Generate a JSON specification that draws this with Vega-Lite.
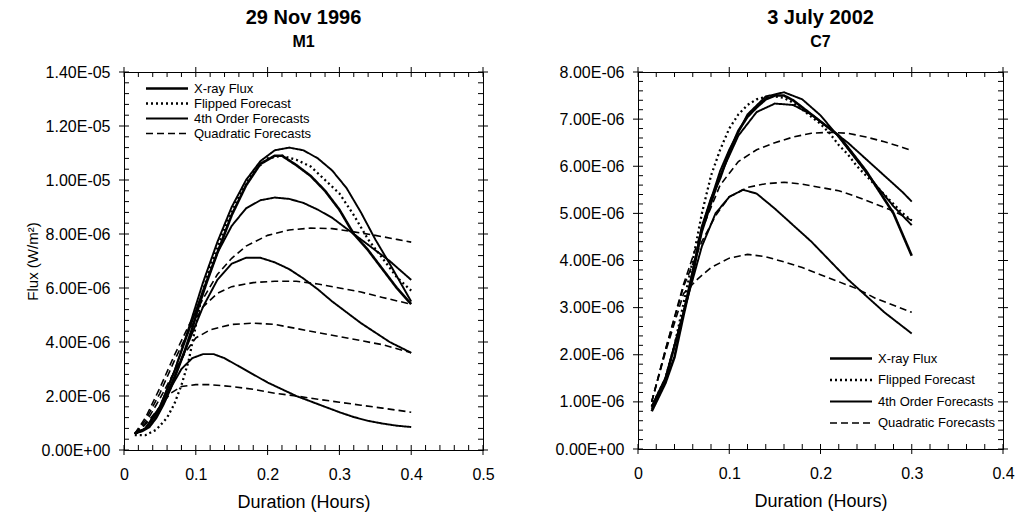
{
 "$schema": "https://vega.github.io/schema/vega-lite/v6.json",
 "padding": {"left": 24, "top": 7, "right": 5, "bottom": 5},
 "background": "white",
 "config": {
  "font": "Liberation Sans",
  "view": {"stroke": "black", "strokeWidth": 1},
  "axis": {"grid": false, "ticks": false, "tickSize": 0, "domainColor": "black", "labelColor": "black", "titleColor": "black", "labelFontSize": 16, "titleFontSize": 18, "titleFontWeight": "normal", "labelOverlap": false, "labelFlush": false, "labelBound": false, "domainWidth": 1},
  "title": {"fontSize": 20, "fontWeight": "bold", "subtitleFontSize": 16, "subtitleFontWeight": "bold", "subtitleColor": "black", "color": "black", "frame": "group", "anchor": "middle"},
  "legend": {"title": null, "orient": "none", "symbolType": "M-11,0H1", "symbolSize": 49, "labelFontSize": 13, "labelColor": "black", "padding": 0, "symbolStrokeColor": "black", "symbolFillColor": "transparent"}
 },
 "datasets": {
  "XL": [{"v":0,"m":1},{"v":0.02,"m":0},{"v":0.04,"m":0},{"v":0.06,"m":0},{"v":0.08,"m":0},{"v":0.1,"m":1},{"v":0.12,"m":0},{"v":0.14,"m":0},{"v":0.16,"m":0},{"v":0.18,"m":0},{"v":0.2,"m":1},{"v":0.22,"m":0},{"v":0.24,"m":0},{"v":0.26,"m":0},{"v":0.28,"m":0},{"v":0.3,"m":1},{"v":0.32,"m":0},{"v":0.34,"m":0},{"v":0.36,"m":0},{"v":0.38,"m":0},{"v":0.4,"m":1},{"v":0.42,"m":0},{"v":0.44,"m":0},{"v":0.46,"m":0},{"v":0.48,"m":0},{"v":0.5,"m":1}],
  "XR": [{"v":0,"m":1},{"v":0.02,"m":0},{"v":0.04,"m":0},{"v":0.06,"m":0},{"v":0.08,"m":0},{"v":0.1,"m":1},{"v":0.12,"m":0},{"v":0.14,"m":0},{"v":0.16,"m":0},{"v":0.18,"m":0},{"v":0.2,"m":1},{"v":0.22,"m":0},{"v":0.24,"m":0},{"v":0.26,"m":0},{"v":0.28,"m":0},{"v":0.3,"m":1},{"v":0.32,"m":0},{"v":0.34,"m":0},{"v":0.36,"m":0},{"v":0.38,"m":0},{"v":0.4,"m":1}],
  "YL": [{"v":0,"m":1},{"v":4e-7,"m":0},{"v":8e-7,"m":0},{"v":1.2e-6,"m":0},{"v":1.6e-6,"m":0},{"v":2e-6,"m":1},{"v":2.4e-6,"m":0},{"v":2.8e-6,"m":0},{"v":3.2e-6,"m":0},{"v":3.6e-6,"m":0},{"v":4e-6,"m":1},{"v":4.4e-6,"m":0},{"v":4.8e-6,"m":0},{"v":5.2e-6,"m":0},{"v":5.6e-6,"m":0},{"v":6e-6,"m":1},{"v":6.4e-6,"m":0},{"v":6.8e-6,"m":0},{"v":7.2e-6,"m":0},{"v":7.6e-6,"m":0},{"v":8e-6,"m":1},{"v":8.4e-6,"m":0},{"v":8.8e-6,"m":0},{"v":9.2e-6,"m":0},{"v":9.6e-6,"m":0},{"v":1e-5,"m":1},{"v":1.04e-5,"m":0},{"v":1.08e-5,"m":0},{"v":1.12e-5,"m":0},{"v":1.16e-5,"m":0},{"v":1.2e-5,"m":1},{"v":1.24e-5,"m":0},{"v":1.28e-5,"m":0},{"v":1.32e-5,"m":0},{"v":1.36e-5,"m":0},{"v":1.4e-5,"m":1}],
  "YR": [{"v":0,"m":1},{"v":2e-7,"m":0},{"v":4e-7,"m":0},{"v":6e-7,"m":0},{"v":8e-7,"m":0},{"v":1e-6,"m":1},{"v":1.2e-6,"m":0},{"v":1.4e-6,"m":0},{"v":1.6e-6,"m":0},{"v":1.8e-6,"m":0},{"v":2e-6,"m":1},{"v":2.2e-6,"m":0},{"v":2.4e-6,"m":0},{"v":2.6e-6,"m":0},{"v":2.8e-6,"m":0},{"v":3e-6,"m":1},{"v":3.2e-6,"m":0},{"v":3.4e-6,"m":0},{"v":3.6e-6,"m":0},{"v":3.8e-6,"m":0},{"v":4e-6,"m":1},{"v":4.2e-6,"m":0},{"v":4.4e-6,"m":0},{"v":4.6e-6,"m":0},{"v":4.8e-6,"m":0},{"v":5e-6,"m":1},{"v":5.2e-6,"m":0},{"v":5.4e-6,"m":0},{"v":5.6e-6,"m":0},{"v":5.8e-6,"m":0},{"v":6e-6,"m":1},{"v":6.2e-6,"m":0},{"v":6.4e-6,"m":0},{"v":6.6e-6,"m":0},{"v":6.8e-6,"m":0},{"v":7e-6,"m":1},{"v":7.2e-6,"m":0},{"v":7.4e-6,"m":0},{"v":7.6e-6,"m":0},{"v":7.8e-6,"m":0},{"v":8e-6,"m":1}],
  "L": [
   {"t":0.015,"f":0.62e-6,"s":"x","k":"X-ray Flux"},{"t":0.025,"f":0.7e-6,"s":"x","k":"X-ray Flux"},{"t":0.035,"f":0.85e-6,"s":"x","k":"X-ray Flux"},{"t":0.045,"f":1.2e-6,"s":"x","k":"X-ray Flux"},{"t":0.055,"f":1.7e-6,"s":"x","k":"X-ray Flux"},{"t":0.065,"f":2.3e-6,"s":"x","k":"X-ray Flux"},{"t":0.075,"f":3.0e-6,"s":"x","k":"X-ray Flux"},{"t":0.085,"f":3.7e-6,"s":"x","k":"X-ray Flux"},{"t":0.095,"f":4.5e-6,"s":"x","k":"X-ray Flux"},{"t":0.105,"f":5.4e-6,"s":"x","k":"X-ray Flux"},{"t":0.115,"f":6.2e-6,"s":"x","k":"X-ray Flux"},{"t":0.13,"f":7.3e-6,"s":"x","k":"X-ray Flux"},{"t":0.15,"f":8.7e-6,"s":"x","k":"X-ray Flux"},{"t":0.17,"f":9.8e-6,"s":"x","k":"X-ray Flux"},{"t":0.19,"f":10.6e-6,"s":"x","k":"X-ray Flux"},{"t":0.21,"f":10.9e-6,"s":"x","k":"X-ray Flux"},{"t":0.22,"f":10.9e-6,"s":"x","k":"X-ray Flux"},{"t":0.24,"f":10.55e-6,"s":"x","k":"X-ray Flux"},{"t":0.26,"f":10.15e-6,"s":"x","k":"X-ray Flux"},{"t":0.28,"f":9.6e-6,"s":"x","k":"X-ray Flux"},{"t":0.30,"f":8.9e-6,"s":"x","k":"X-ray Flux"},{"t":0.32,"f":8.0e-6,"s":"x","k":"X-ray Flux"},{"t":0.34,"f":7.4e-6,"s":"x","k":"X-ray Flux"},{"t":0.36,"f":6.7e-6,"s":"x","k":"X-ray Flux"},{"t":0.38,"f":6.0e-6,"s":"x","k":"X-ray Flux"},{"t":0.40,"f":5.4e-6,"s":"x","k":"X-ray Flux"},
   {"t":0.015,"f":0.55e-6,"s":"p","k":"Flipped Forecast"},{"t":0.03,"f":0.55e-6,"s":"p","k":"Flipped Forecast"},{"t":0.045,"f":0.75e-6,"s":"p","k":"Flipped Forecast"},{"t":0.06,"f":1.2e-6,"s":"p","k":"Flipped Forecast"},{"t":0.07,"f":1.7e-6,"s":"p","k":"Flipped Forecast"},{"t":0.08,"f":2.4e-6,"s":"p","k":"Flipped Forecast"},{"t":0.09,"f":3.3e-6,"s":"p","k":"Flipped Forecast"},{"t":0.10,"f":4.6e-6,"s":"p","k":"Flipped Forecast"},{"t":0.11,"f":5.9e-6,"s":"p","k":"Flipped Forecast"},{"t":0.12,"f":6.8e-6,"s":"p","k":"Flipped Forecast"},{"t":0.14,"f":8.2e-6,"s":"p","k":"Flipped Forecast"},{"t":0.16,"f":9.4e-6,"s":"p","k":"Flipped Forecast"},{"t":0.18,"f":10.3e-6,"s":"p","k":"Flipped Forecast"},{"t":0.20,"f":10.8e-6,"s":"p","k":"Flipped Forecast"},{"t":0.22,"f":10.9e-6,"s":"p","k":"Flipped Forecast"},{"t":0.24,"f":10.75e-6,"s":"p","k":"Flipped Forecast"},{"t":0.26,"f":10.5e-6,"s":"p","k":"Flipped Forecast"},{"t":0.28,"f":10.0e-6,"s":"p","k":"Flipped Forecast"},{"t":0.30,"f":9.5e-6,"s":"p","k":"Flipped Forecast"},{"t":0.32,"f":8.7e-6,"s":"p","k":"Flipped Forecast"},{"t":0.34,"f":7.8e-6,"s":"p","k":"Flipped Forecast"},{"t":0.36,"f":7.1e-6,"s":"p","k":"Flipped Forecast"},{"t":0.38,"f":6.4e-6,"s":"p","k":"Flipped Forecast"},{"t":0.40,"f":5.9e-6,"s":"p","k":"Flipped Forecast"},
   {"t":0.015,"f":0.6e-6,"s":"a","k":"4th Order Forecasts"},{"t":0.03,"f":0.8e-6,"s":"a","k":"4th Order Forecasts"},{"t":0.05,"f":1.6e-6,"s":"a","k":"4th Order Forecasts"},{"t":0.07,"f":2.9e-6,"s":"a","k":"4th Order Forecasts"},{"t":0.09,"f":4.5e-6,"s":"a","k":"4th Order Forecasts"},{"t":0.11,"f":6.2e-6,"s":"a","k":"4th Order Forecasts"},{"t":0.13,"f":7.7e-6,"s":"a","k":"4th Order Forecasts"},{"t":0.15,"f":9.0e-6,"s":"a","k":"4th Order Forecasts"},{"t":0.17,"f":10.0e-6,"s":"a","k":"4th Order Forecasts"},{"t":0.19,"f":10.7e-6,"s":"a","k":"4th Order Forecasts"},{"t":0.21,"f":11.1e-6,"s":"a","k":"4th Order Forecasts"},{"t":0.23,"f":11.2e-6,"s":"a","k":"4th Order Forecasts"},{"t":0.25,"f":11.1e-6,"s":"a","k":"4th Order Forecasts"},{"t":0.27,"f":10.8e-6,"s":"a","k":"4th Order Forecasts"},{"t":0.29,"f":10.35e-6,"s":"a","k":"4th Order Forecasts"},{"t":0.31,"f":9.7e-6,"s":"a","k":"4th Order Forecasts"},{"t":0.33,"f":8.8e-6,"s":"a","k":"4th Order Forecasts"},{"t":0.35,"f":7.8e-6,"s":"a","k":"4th Order Forecasts"},{"t":0.37,"f":6.9e-6,"s":"a","k":"4th Order Forecasts"},{"t":0.40,"f":5.5e-6,"s":"a","k":"4th Order Forecasts"},
   {"t":0.015,"f":0.6e-6,"s":"b","k":"4th Order Forecasts"},{"t":0.03,"f":0.8e-6,"s":"b","k":"4th Order Forecasts"},{"t":0.05,"f":1.6e-6,"s":"b","k":"4th Order Forecasts"},{"t":0.07,"f":2.9e-6,"s":"b","k":"4th Order Forecasts"},{"t":0.09,"f":4.4e-6,"s":"b","k":"4th Order Forecasts"},{"t":0.11,"f":5.9e-6,"s":"b","k":"4th Order Forecasts"},{"t":0.13,"f":7.3e-6,"s":"b","k":"4th Order Forecasts"},{"t":0.15,"f":8.3e-6,"s":"b","k":"4th Order Forecasts"},{"t":0.17,"f":8.95e-6,"s":"b","k":"4th Order Forecasts"},{"t":0.19,"f":9.25e-6,"s":"b","k":"4th Order Forecasts"},{"t":0.21,"f":9.35e-6,"s":"b","k":"4th Order Forecasts"},{"t":0.23,"f":9.3e-6,"s":"b","k":"4th Order Forecasts"},{"t":0.25,"f":9.15e-6,"s":"b","k":"4th Order Forecasts"},{"t":0.27,"f":8.9e-6,"s":"b","k":"4th Order Forecasts"},{"t":0.29,"f":8.6e-6,"s":"b","k":"4th Order Forecasts"},{"t":0.31,"f":8.2e-6,"s":"b","k":"4th Order Forecasts"},{"t":0.33,"f":7.8e-6,"s":"b","k":"4th Order Forecasts"},{"t":0.35,"f":7.4e-6,"s":"b","k":"4th Order Forecasts"},{"t":0.37,"f":7.0e-6,"s":"b","k":"4th Order Forecasts"},{"t":0.40,"f":6.3e-6,"s":"b","k":"4th Order Forecasts"},
   {"t":0.015,"f":0.6e-6,"s":"c","k":"4th Order Forecasts"},{"t":0.03,"f":0.8e-6,"s":"c","k":"4th Order Forecasts"},{"t":0.05,"f":1.5e-6,"s":"c","k":"4th Order Forecasts"},{"t":0.07,"f":2.7e-6,"s":"c","k":"4th Order Forecasts"},{"t":0.09,"f":4.0e-6,"s":"c","k":"4th Order Forecasts"},{"t":0.11,"f":5.3e-6,"s":"c","k":"4th Order Forecasts"},{"t":0.13,"f":6.3e-6,"s":"c","k":"4th Order Forecasts"},{"t":0.15,"f":6.9e-6,"s":"c","k":"4th Order Forecasts"},{"t":0.17,"f":7.12e-6,"s":"c","k":"4th Order Forecasts"},{"t":0.19,"f":7.12e-6,"s":"c","k":"4th Order Forecasts"},{"t":0.21,"f":6.95e-6,"s":"c","k":"4th Order Forecasts"},{"t":0.23,"f":6.7e-6,"s":"c","k":"4th Order Forecasts"},{"t":0.25,"f":6.35e-6,"s":"c","k":"4th Order Forecasts"},{"t":0.27,"f":5.95e-6,"s":"c","k":"4th Order Forecasts"},{"t":0.29,"f":5.5e-6,"s":"c","k":"4th Order Forecasts"},{"t":0.31,"f":5.1e-6,"s":"c","k":"4th Order Forecasts"},{"t":0.33,"f":4.7e-6,"s":"c","k":"4th Order Forecasts"},{"t":0.35,"f":4.35e-6,"s":"c","k":"4th Order Forecasts"},{"t":0.37,"f":4.0e-6,"s":"c","k":"4th Order Forecasts"},{"t":0.40,"f":3.6e-6,"s":"c","k":"4th Order Forecasts"},
   {"t":0.015,"f":0.6e-6,"s":"d","k":"4th Order Forecasts"},{"t":0.03,"f":0.8e-6,"s":"d","k":"4th Order Forecasts"},{"t":0.05,"f":1.5e-6,"s":"d","k":"4th Order Forecasts"},{"t":0.065,"f":2.3e-6,"s":"d","k":"4th Order Forecasts"},{"t":0.08,"f":3.0e-6,"s":"d","k":"4th Order Forecasts"},{"t":0.095,"f":3.4e-6,"s":"d","k":"4th Order Forecasts"},{"t":0.11,"f":3.55e-6,"s":"d","k":"4th Order Forecasts"},{"t":0.125,"f":3.55e-6,"s":"d","k":"4th Order Forecasts"},{"t":0.14,"f":3.4e-6,"s":"d","k":"4th Order Forecasts"},{"t":0.16,"f":3.1e-6,"s":"d","k":"4th Order Forecasts"},{"t":0.18,"f":2.8e-6,"s":"d","k":"4th Order Forecasts"},{"t":0.20,"f":2.5e-6,"s":"d","k":"4th Order Forecasts"},{"t":0.22,"f":2.25e-6,"s":"d","k":"4th Order Forecasts"},{"t":0.24,"f":2.0e-6,"s":"d","k":"4th Order Forecasts"},{"t":0.26,"f":1.8e-6,"s":"d","k":"4th Order Forecasts"},{"t":0.28,"f":1.6e-6,"s":"d","k":"4th Order Forecasts"},{"t":0.30,"f":1.4e-6,"s":"d","k":"4th Order Forecasts"},{"t":0.32,"f":1.22e-6,"s":"d","k":"4th Order Forecasts"},{"t":0.34,"f":1.08e-6,"s":"d","k":"4th Order Forecasts"},{"t":0.36,"f":0.98e-6,"s":"d","k":"4th Order Forecasts"},{"t":0.38,"f":0.9e-6,"s":"d","k":"4th Order Forecasts"},{"t":0.40,"f":0.85e-6,"s":"d","k":"4th Order Forecasts"},
   {"t":0.015,"f":0.6e-6,"s":"q1","k":"Quadratic Forecasts"},{"t":0.03,"f":1.2e-6,"s":"q1","k":"Quadratic Forecasts"},{"t":0.05,"f":2.3e-6,"s":"q1","k":"Quadratic Forecasts"},{"t":0.07,"f":3.5e-6,"s":"q1","k":"Quadratic Forecasts"},{"t":0.09,"f":4.6e-6,"s":"q1","k":"Quadratic Forecasts"},{"t":0.11,"f":5.6e-6,"s":"q1","k":"Quadratic Forecasts"},{"t":0.13,"f":6.5e-6,"s":"q1","k":"Quadratic Forecasts"},{"t":0.15,"f":7.1e-6,"s":"q1","k":"Quadratic Forecasts"},{"t":0.17,"f":7.55e-6,"s":"q1","k":"Quadratic Forecasts"},{"t":0.20,"f":7.95e-6,"s":"q1","k":"Quadratic Forecasts"},{"t":0.23,"f":8.15e-6,"s":"q1","k":"Quadratic Forecasts"},{"t":0.26,"f":8.22e-6,"s":"q1","k":"Quadratic Forecasts"},{"t":0.29,"f":8.2e-6,"s":"q1","k":"Quadratic Forecasts"},{"t":0.32,"f":8.08e-6,"s":"q1","k":"Quadratic Forecasts"},{"t":0.35,"f":7.95e-6,"s":"q1","k":"Quadratic Forecasts"},{"t":0.38,"f":7.8e-6,"s":"q1","k":"Quadratic Forecasts"},{"t":0.40,"f":7.7e-6,"s":"q1","k":"Quadratic Forecasts"},
   {"t":0.015,"f":0.6e-6,"s":"q2","k":"Quadratic Forecasts"},{"t":0.03,"f":1.1e-6,"s":"q2","k":"Quadratic Forecasts"},{"t":0.05,"f":2.1e-6,"s":"q2","k":"Quadratic Forecasts"},{"t":0.07,"f":3.3e-6,"s":"q2","k":"Quadratic Forecasts"},{"t":0.09,"f":4.4e-6,"s":"q2","k":"Quadratic Forecasts"},{"t":0.11,"f":5.3e-6,"s":"q2","k":"Quadratic Forecasts"},{"t":0.13,"f":5.8e-6,"s":"q2","k":"Quadratic Forecasts"},{"t":0.15,"f":6.05e-6,"s":"q2","k":"Quadratic Forecasts"},{"t":0.18,"f":6.2e-6,"s":"q2","k":"Quadratic Forecasts"},{"t":0.21,"f":6.25e-6,"s":"q2","k":"Quadratic Forecasts"},{"t":0.24,"f":6.25e-6,"s":"q2","k":"Quadratic Forecasts"},{"t":0.27,"f":6.15e-6,"s":"q2","k":"Quadratic Forecasts"},{"t":0.30,"f":6.0e-6,"s":"q2","k":"Quadratic Forecasts"},{"t":0.33,"f":5.85e-6,"s":"q2","k":"Quadratic Forecasts"},{"t":0.36,"f":5.65e-6,"s":"q2","k":"Quadratic Forecasts"},{"t":0.40,"f":5.4e-6,"s":"q2","k":"Quadratic Forecasts"},
   {"t":0.015,"f":0.6e-6,"s":"q3","k":"Quadratic Forecasts"},{"t":0.03,"f":1.0e-6,"s":"q3","k":"Quadratic Forecasts"},{"t":0.05,"f":1.9e-6,"s":"q3","k":"Quadratic Forecasts"},{"t":0.07,"f":2.9e-6,"s":"q3","k":"Quadratic Forecasts"},{"t":0.085,"f":3.6e-6,"s":"q3","k":"Quadratic Forecasts"},{"t":0.10,"f":4.15e-6,"s":"q3","k":"Quadratic Forecasts"},{"t":0.12,"f":4.45e-6,"s":"q3","k":"Quadratic Forecasts"},{"t":0.15,"f":4.65e-6,"s":"q3","k":"Quadratic Forecasts"},{"t":0.18,"f":4.7e-6,"s":"q3","k":"Quadratic Forecasts"},{"t":0.21,"f":4.65e-6,"s":"q3","k":"Quadratic Forecasts"},{"t":0.24,"f":4.5e-6,"s":"q3","k":"Quadratic Forecasts"},{"t":0.27,"f":4.35e-6,"s":"q3","k":"Quadratic Forecasts"},{"t":0.30,"f":4.2e-6,"s":"q3","k":"Quadratic Forecasts"},{"t":0.33,"f":4.05e-6,"s":"q3","k":"Quadratic Forecasts"},{"t":0.36,"f":3.9e-6,"s":"q3","k":"Quadratic Forecasts"},{"t":0.40,"f":3.6e-6,"s":"q3","k":"Quadratic Forecasts"},
   {"t":0.015,"f":0.6e-6,"s":"q4","k":"Quadratic Forecasts"},{"t":0.03,"f":0.95e-6,"s":"q4","k":"Quadratic Forecasts"},{"t":0.05,"f":1.6e-6,"s":"q4","k":"Quadratic Forecasts"},{"t":0.065,"f":2.1e-6,"s":"q4","k":"Quadratic Forecasts"},{"t":0.08,"f":2.35e-6,"s":"q4","k":"Quadratic Forecasts"},{"t":0.10,"f":2.42e-6,"s":"q4","k":"Quadratic Forecasts"},{"t":0.12,"f":2.42e-6,"s":"q4","k":"Quadratic Forecasts"},{"t":0.15,"f":2.35e-6,"s":"q4","k":"Quadratic Forecasts"},{"t":0.18,"f":2.25e-6,"s":"q4","k":"Quadratic Forecasts"},{"t":0.21,"f":2.1e-6,"s":"q4","k":"Quadratic Forecasts"},{"t":0.24,"f":2.0e-6,"s":"q4","k":"Quadratic Forecasts"},{"t":0.27,"f":1.88e-6,"s":"q4","k":"Quadratic Forecasts"},{"t":0.30,"f":1.77e-6,"s":"q4","k":"Quadratic Forecasts"},{"t":0.33,"f":1.66e-6,"s":"q4","k":"Quadratic Forecasts"},{"t":0.36,"f":1.55e-6,"s":"q4","k":"Quadratic Forecasts"},{"t":0.40,"f":1.4e-6,"s":"q4","k":"Quadratic Forecasts"}
  ],
  "R": [
   {"t":0.015,"f":0.8e-6,"s":"x","k":"X-ray Flux"},{"t":0.03,"f":1.4e-6,"s":"x","k":"X-ray Flux"},{"t":0.04,"f":1.95e-6,"s":"x","k":"X-ray Flux"},{"t":0.05,"f":2.85e-6,"s":"x","k":"X-ray Flux"},{"t":0.06,"f":3.7e-6,"s":"x","k":"X-ray Flux"},{"t":0.07,"f":4.7e-6,"s":"x","k":"X-ray Flux"},{"t":0.08,"f":5.3e-6,"s":"x","k":"X-ray Flux"},{"t":0.09,"f":5.75e-6,"s":"x","k":"X-ray Flux"},{"t":0.10,"f":6.3e-6,"s":"x","k":"X-ray Flux"},{"t":0.11,"f":6.75e-6,"s":"x","k":"X-ray Flux"},{"t":0.12,"f":7.05e-6,"s":"x","k":"X-ray Flux"},{"t":0.13,"f":7.25e-6,"s":"x","k":"X-ray Flux"},{"t":0.14,"f":7.42e-6,"s":"x","k":"X-ray Flux"},{"t":0.15,"f":7.5e-6,"s":"x","k":"X-ray Flux"},{"t":0.16,"f":7.5e-6,"s":"x","k":"X-ray Flux"},{"t":0.17,"f":7.4e-6,"s":"x","k":"X-ray Flux"},{"t":0.18,"f":7.25e-6,"s":"x","k":"X-ray Flux"},{"t":0.19,"f":7.1e-6,"s":"x","k":"X-ray Flux"},{"t":0.20,"f":6.95e-6,"s":"x","k":"X-ray Flux"},{"t":0.21,"f":6.8e-6,"s":"x","k":"X-ray Flux"},{"t":0.22,"f":6.65e-6,"s":"x","k":"X-ray Flux"},{"t":0.23,"f":6.4e-6,"s":"x","k":"X-ray Flux"},{"t":0.24,"f":6.15e-6,"s":"x","k":"X-ray Flux"},{"t":0.25,"f":5.9e-6,"s":"x","k":"X-ray Flux"},{"t":0.26,"f":5.6e-6,"s":"x","k":"X-ray Flux"},{"t":0.27,"f":5.3e-6,"s":"x","k":"X-ray Flux"},{"t":0.28,"f":5.0e-6,"s":"x","k":"X-ray Flux"},{"t":0.29,"f":4.55e-6,"s":"x","k":"X-ray Flux"},{"t":0.30,"f":4.1e-6,"s":"x","k":"X-ray Flux"},
   {"t":0.015,"f":0.9e-6,"s":"p","k":"Flipped Forecast"},{"t":0.03,"f":1.5e-6,"s":"p","k":"Flipped Forecast"},{"t":0.04,"f":2.2e-6,"s":"p","k":"Flipped Forecast"},{"t":0.05,"f":3.1e-6,"s":"p","k":"Flipped Forecast"},{"t":0.06,"f":4.0e-6,"s":"p","k":"Flipped Forecast"},{"t":0.07,"f":5.0e-6,"s":"p","k":"Flipped Forecast"},{"t":0.08,"f":5.8e-6,"s":"p","k":"Flipped Forecast"},{"t":0.09,"f":6.35e-6,"s":"p","k":"Flipped Forecast"},{"t":0.10,"f":6.8e-6,"s":"p","k":"Flipped Forecast"},{"t":0.11,"f":7.1e-6,"s":"p","k":"Flipped Forecast"},{"t":0.12,"f":7.3e-6,"s":"p","k":"Flipped Forecast"},{"t":0.13,"f":7.42e-6,"s":"p","k":"Flipped Forecast"},{"t":0.14,"f":7.47e-6,"s":"p","k":"Flipped Forecast"},{"t":0.15,"f":7.48e-6,"s":"p","k":"Flipped Forecast"},{"t":0.16,"f":7.45e-6,"s":"p","k":"Flipped Forecast"},{"t":0.17,"f":7.35e-6,"s":"p","k":"Flipped Forecast"},{"t":0.18,"f":7.2e-6,"s":"p","k":"Flipped Forecast"},{"t":0.19,"f":7.05e-6,"s":"p","k":"Flipped Forecast"},{"t":0.20,"f":6.9e-6,"s":"p","k":"Flipped Forecast"},{"t":0.21,"f":6.7e-6,"s":"p","k":"Flipped Forecast"},{"t":0.22,"f":6.45e-6,"s":"p","k":"Flipped Forecast"},{"t":0.23,"f":6.25e-6,"s":"p","k":"Flipped Forecast"},{"t":0.24,"f":6.0e-6,"s":"p","k":"Flipped Forecast"},{"t":0.25,"f":5.8e-6,"s":"p","k":"Flipped Forecast"},{"t":0.26,"f":5.6e-6,"s":"p","k":"Flipped Forecast"},{"t":0.27,"f":5.4e-6,"s":"p","k":"Flipped Forecast"},{"t":0.28,"f":5.2e-6,"s":"p","k":"Flipped Forecast"},{"t":0.29,"f":5.0e-6,"s":"p","k":"Flipped Forecast"},{"t":0.30,"f":4.85e-6,"s":"p","k":"Flipped Forecast"},
   {"t":0.015,"f":0.85e-6,"s":"a","k":"4th Order Forecasts"},{"t":0.03,"f":1.45e-6,"s":"a","k":"4th Order Forecasts"},{"t":0.05,"f":2.9e-6,"s":"a","k":"4th Order Forecasts"},{"t":0.07,"f":4.7e-6,"s":"a","k":"4th Order Forecasts"},{"t":0.09,"f":5.9e-6,"s":"a","k":"4th Order Forecasts"},{"t":0.10,"f":6.35e-6,"s":"a","k":"4th Order Forecasts"},{"t":0.12,"f":7.1e-6,"s":"a","k":"4th Order Forecasts"},{"t":0.14,"f":7.48e-6,"s":"a","k":"4th Order Forecasts"},{"t":0.16,"f":7.57e-6,"s":"a","k":"4th Order Forecasts"},{"t":0.18,"f":7.42e-6,"s":"a","k":"4th Order Forecasts"},{"t":0.20,"f":7.08e-6,"s":"a","k":"4th Order Forecasts"},{"t":0.22,"f":6.62e-6,"s":"a","k":"4th Order Forecasts"},{"t":0.24,"f":6.12e-6,"s":"a","k":"4th Order Forecasts"},{"t":0.26,"f":5.62e-6,"s":"a","k":"4th Order Forecasts"},{"t":0.28,"f":5.15e-6,"s":"a","k":"4th Order Forecasts"},{"t":0.30,"f":4.75e-6,"s":"a","k":"4th Order Forecasts"},
   {"t":0.015,"f":0.9e-6,"s":"b","k":"4th Order Forecasts"},{"t":0.03,"f":1.5e-6,"s":"b","k":"4th Order Forecasts"},{"t":0.05,"f":2.9e-6,"s":"b","k":"4th Order Forecasts"},{"t":0.07,"f":4.6e-6,"s":"b","k":"4th Order Forecasts"},{"t":0.09,"f":5.8e-6,"s":"b","k":"4th Order Forecasts"},{"t":0.11,"f":6.65e-6,"s":"b","k":"4th Order Forecasts"},{"t":0.13,"f":7.15e-6,"s":"b","k":"4th Order Forecasts"},{"t":0.15,"f":7.33e-6,"s":"b","k":"4th Order Forecasts"},{"t":0.17,"f":7.3e-6,"s":"b","k":"4th Order Forecasts"},{"t":0.19,"f":7.1e-6,"s":"b","k":"4th Order Forecasts"},{"t":0.21,"f":6.8e-6,"s":"b","k":"4th Order Forecasts"},{"t":0.23,"f":6.5e-6,"s":"b","k":"4th Order Forecasts"},{"t":0.25,"f":6.15e-6,"s":"b","k":"4th Order Forecasts"},{"t":0.27,"f":5.8e-6,"s":"b","k":"4th Order Forecasts"},{"t":0.29,"f":5.45e-6,"s":"b","k":"4th Order Forecasts"},{"t":0.30,"f":5.25e-6,"s":"b","k":"4th Order Forecasts"},
   {"t":0.015,"f":0.9e-6,"s":"c","k":"4th Order Forecasts"},{"t":0.03,"f":1.5e-6,"s":"c","k":"4th Order Forecasts"},{"t":0.05,"f":2.9e-6,"s":"c","k":"4th Order Forecasts"},{"t":0.07,"f":4.3e-6,"s":"c","k":"4th Order Forecasts"},{"t":0.085,"f":5.0e-6,"s":"c","k":"4th Order Forecasts"},{"t":0.10,"f":5.35e-6,"s":"c","k":"4th Order Forecasts"},{"t":0.115,"f":5.5e-6,"s":"c","k":"4th Order Forecasts"},{"t":0.13,"f":5.42e-6,"s":"c","k":"4th Order Forecasts"},{"t":0.15,"f":5.1e-6,"s":"c","k":"4th Order Forecasts"},{"t":0.17,"f":4.75e-6,"s":"c","k":"4th Order Forecasts"},{"t":0.19,"f":4.4e-6,"s":"c","k":"4th Order Forecasts"},{"t":0.21,"f":4.0e-6,"s":"c","k":"4th Order Forecasts"},{"t":0.23,"f":3.6e-6,"s":"c","k":"4th Order Forecasts"},{"t":0.25,"f":3.25e-6,"s":"c","k":"4th Order Forecasts"},{"t":0.27,"f":2.9e-6,"s":"c","k":"4th Order Forecasts"},{"t":0.29,"f":2.6e-6,"s":"c","k":"4th Order Forecasts"},{"t":0.30,"f":2.45e-6,"s":"c","k":"4th Order Forecasts"},
   {"t":0.015,"f":1.0e-6,"s":"q1","k":"Quadratic Forecasts"},{"t":0.03,"f":2.1e-6,"s":"q1","k":"Quadratic Forecasts"},{"t":0.05,"f":3.5e-6,"s":"q1","k":"Quadratic Forecasts"},{"t":0.07,"f":4.65e-6,"s":"q1","k":"Quadratic Forecasts"},{"t":0.09,"f":5.6e-6,"s":"q1","k":"Quadratic Forecasts"},{"t":0.11,"f":6.1e-6,"s":"q1","k":"Quadratic Forecasts"},{"t":0.13,"f":6.35e-6,"s":"q1","k":"Quadratic Forecasts"},{"t":0.15,"f":6.5e-6,"s":"q1","k":"Quadratic Forecasts"},{"t":0.17,"f":6.62e-6,"s":"q1","k":"Quadratic Forecasts"},{"t":0.19,"f":6.7e-6,"s":"q1","k":"Quadratic Forecasts"},{"t":0.21,"f":6.72e-6,"s":"q1","k":"Quadratic Forecasts"},{"t":0.23,"f":6.7e-6,"s":"q1","k":"Quadratic Forecasts"},{"t":0.25,"f":6.62e-6,"s":"q1","k":"Quadratic Forecasts"},{"t":0.27,"f":6.52e-6,"s":"q1","k":"Quadratic Forecasts"},{"t":0.29,"f":6.4e-6,"s":"q1","k":"Quadratic Forecasts"},{"t":0.30,"f":6.33e-6,"s":"q1","k":"Quadratic Forecasts"},
   {"t":0.015,"f":1.0e-6,"s":"q2","k":"Quadratic Forecasts"},{"t":0.03,"f":2.1e-6,"s":"q2","k":"Quadratic Forecasts"},{"t":0.05,"f":3.45e-6,"s":"q2","k":"Quadratic Forecasts"},{"t":0.07,"f":4.4e-6,"s":"q2","k":"Quadratic Forecasts"},{"t":0.085,"f":4.95e-6,"s":"q2","k":"Quadratic Forecasts"},{"t":0.10,"f":5.35e-6,"s":"q2","k":"Quadratic Forecasts"},{"t":0.12,"f":5.55e-6,"s":"q2","k":"Quadratic Forecasts"},{"t":0.14,"f":5.63e-6,"s":"q2","k":"Quadratic Forecasts"},{"t":0.16,"f":5.66e-6,"s":"q2","k":"Quadratic Forecasts"},{"t":0.18,"f":5.62e-6,"s":"q2","k":"Quadratic Forecasts"},{"t":0.20,"f":5.55e-6,"s":"q2","k":"Quadratic Forecasts"},{"t":0.22,"f":5.48e-6,"s":"q2","k":"Quadratic Forecasts"},{"t":0.24,"f":5.35e-6,"s":"q2","k":"Quadratic Forecasts"},{"t":0.26,"f":5.2e-6,"s":"q2","k":"Quadratic Forecasts"},{"t":0.28,"f":5.05e-6,"s":"q2","k":"Quadratic Forecasts"},{"t":0.30,"f":4.85e-6,"s":"q2","k":"Quadratic Forecasts"},
   {"t":0.015,"f":1.0e-6,"s":"q3","k":"Quadratic Forecasts"},{"t":0.03,"f":2.05e-6,"s":"q3","k":"Quadratic Forecasts"},{"t":0.05,"f":3.3e-6,"s":"q3","k":"Quadratic Forecasts"},{"t":0.065,"f":3.6e-6,"s":"q3","k":"Quadratic Forecasts"},{"t":0.08,"f":3.85e-6,"s":"q3","k":"Quadratic Forecasts"},{"t":0.10,"f":4.05e-6,"s":"q3","k":"Quadratic Forecasts"},{"t":0.12,"f":4.13e-6,"s":"q3","k":"Quadratic Forecasts"},{"t":0.14,"f":4.08e-6,"s":"q3","k":"Quadratic Forecasts"},{"t":0.16,"f":3.97e-6,"s":"q3","k":"Quadratic Forecasts"},{"t":0.18,"f":3.85e-6,"s":"q3","k":"Quadratic Forecasts"},{"t":0.20,"f":3.7e-6,"s":"q3","k":"Quadratic Forecasts"},{"t":0.22,"f":3.55e-6,"s":"q3","k":"Quadratic Forecasts"},{"t":0.24,"f":3.4e-6,"s":"q3","k":"Quadratic Forecasts"},{"t":0.26,"f":3.2e-6,"s":"q3","k":"Quadratic Forecasts"},{"t":0.28,"f":3.05e-6,"s":"q3","k":"Quadratic Forecasts"},{"t":0.30,"f":2.9e-6,"s":"q3","k":"Quadratic Forecasts"}
  ]
 },
 "spacing": 59,
 "resolve": {"scale": {"strokeDash": "independent", "strokeWidth": "independent"}, "legend": {"strokeDash": "independent", "strokeWidth": "independent"}},
 "hconcat": [
  {
   "width": 359, "height": 378,
   "title": {"text": "29 Nov 1996", "subtitle": "M1", "offset": 14, "subtitlePadding": 6},
   "layer": [
    {
     "data": {"name": "L"},
     "mark": {"type": "line", "color": "black"},
     "encoding": {
      "x": {"field": "t", "type": "quantitative", "scale": {"domain": [0, 0.5], "nice": false, "zero": false},
            "axis": {"title": "Duration (Hours)", "titlePadding": 11, "labelPadding": 16, "values": [0, 0.1, 0.2, 0.3, 0.4, 0.5],
                     "labelExpr": "format(datum.value, '.1~f')"}},
      "y": {"field": "f", "type": "quantitative", "scale": {"domain": [0, 1.4e-5], "nice": false},
            "axis": {"title": "Flux (W/m²)", "titleFontSize": 15, "titlePadding": 1, "labelPadding": 14,
                     "values": [0, 2e-6, 4e-6, 6e-6, 8e-6, 1e-5, 1.2e-5, 1.4e-5],
                     "labelExpr": "replace(replace(format(datum.value,'.2e'),'e-','E-0'),'e+','E+0')"}},
      "detail": {"field": "s"},
      "strokeDash": {"field": "k", "type": "nominal",
                     "scale": {"domain": ["X-ray Flux", "Flipped Forecast", "4th Order Forecasts", "Quadratic Forecasts"], "range": [[1,0],[2,3],[1,0],[7,4]]},
                     "legend": {"legendX": 54, "legendY": 10, "rowPadding": 1, "labelOffset": 3}},
      "strokeWidth": {"field": "k", "type": "ordinal",
                     "scale": {"domain": ["X-ray Flux", "Flipped Forecast", "4th Order Forecasts", "Quadratic Forecasts"], "range": [2.6, 1.6, 1, 1.4]},
                     "legend": {"legendX": 54, "legendY": 10, "rowPadding": 1, "labelOffset": 3}}
     }
    },
    {"data": {"name": "XL"}, "transform": [{"filter": "datum.m == 1"}],
     "mark": {"type": "tick", "orient": "vertical", "size": 10, "thickness": 1, "color": "black", "opacity": 1},
     "encoding": {"x": {"field": "v", "type": "quantitative"}, "y": {"datum": 0, "type": "quantitative"}}},
    {"data": {"name": "XL"}, "transform": [{"filter": "datum.m == 1"}],
     "mark": {"type": "tick", "orient": "vertical", "size": 10, "thickness": 1, "color": "black", "opacity": 1},
     "encoding": {"x": {"field": "v", "type": "quantitative"}, "y": {"datum": 1.4e-5, "type": "quantitative"}}},
    {"data": {"name": "XL"}, "transform": [{"filter": "datum.m == 0"}],
     "mark": {"type": "tick", "orient": "vertical", "size": 5, "thickness": 1, "color": "black", "opacity": 1, "yOffset": -2.5},
     "encoding": {"x": {"field": "v", "type": "quantitative"}, "y": {"datum": 0, "type": "quantitative"}}},
    {"data": {"name": "XL"}, "transform": [{"filter": "datum.m == 0"}],
     "mark": {"type": "tick", "orient": "vertical", "size": 5, "thickness": 1, "color": "black", "opacity": 1, "yOffset": 2.5},
     "encoding": {"x": {"field": "v", "type": "quantitative"}, "y": {"datum": 1.4e-5, "type": "quantitative"}}},
    {"data": {"name": "YL"}, "transform": [{"filter": "datum.m == 1"}],
     "mark": {"type": "tick", "orient": "horizontal", "size": 10, "thickness": 1, "color": "black", "opacity": 1},
     "encoding": {"y": {"field": "v", "type": "quantitative"}, "x": {"datum": 0, "type": "quantitative"}}},
    {"data": {"name": "YL"}, "transform": [{"filter": "datum.m == 1"}],
     "mark": {"type": "tick", "orient": "horizontal", "size": 10, "thickness": 1, "color": "black", "opacity": 1},
     "encoding": {"y": {"field": "v", "type": "quantitative"}, "x": {"datum": 0.5, "type": "quantitative"}}},
    {"data": {"name": "YL"}, "transform": [{"filter": "datum.m == 0"}],
     "mark": {"type": "tick", "orient": "horizontal", "size": 5, "thickness": 1, "color": "black", "opacity": 1, "xOffset": 2.5},
     "encoding": {"y": {"field": "v", "type": "quantitative"}, "x": {"datum": 0, "type": "quantitative"}}},
    {"data": {"name": "YL"}, "transform": [{"filter": "datum.m == 0"}],
     "mark": {"type": "tick", "orient": "horizontal", "size": 5, "thickness": 1, "color": "black", "opacity": 1, "xOffset": -2.5},
     "encoding": {"y": {"field": "v", "type": "quantitative"}, "x": {"datum": 0.5, "type": "quantitative"}}}
   ]
  },
  {
   "width": 365, "height": 377,
   "title": {"text": "3 July 2002", "subtitle": "C7", "offset": 14, "subtitlePadding": 6},
   "layer": [
    {
     "data": {"name": "R"},
     "mark": {"type": "line", "color": "black"},
     "encoding": {
      "x": {"field": "t", "type": "quantitative", "scale": {"domain": [0, 0.4], "nice": false, "zero": false},
            "axis": {"title": "Duration (Hours)", "titlePadding": 11, "labelPadding": 16, "values": [0, 0.1, 0.2, 0.3, 0.4],
                     "labelExpr": "format(datum.value, '.1~f')"}},
      "y": {"field": "f", "type": "quantitative", "scale": {"domain": [0, 8e-6], "nice": false},
            "axis": {"title": null, "labelPadding": 14,
                     "values": [0, 1e-6, 2e-6, 3e-6, 4e-6, 5e-6, 6e-6, 7e-6, 8e-6],
                     "labelExpr": "replace(replace(format(datum.value,'.2e'),'e-','E-0'),'e+','E+0')"}},
      "detail": {"field": "s"},
      "strokeDash": {"field": "k", "type": "nominal",
                     "scale": {"domain": ["X-ray Flux", "Flipped Forecast", "4th Order Forecasts", "Quadratic Forecasts"], "range": [[1,0],[2,3],[1,0],[7,4]]},
                     "legend": {"legendX": 224, "legendY": 280, "rowPadding": 7.5, "labelOffset": 3}},
      "strokeWidth": {"field": "k", "type": "ordinal",
                     "scale": {"domain": ["X-ray Flux", "Flipped Forecast", "4th Order Forecasts", "Quadratic Forecasts"], "range": [2.6, 1.6, 1, 1.4]},
                     "legend": {"legendX": 224, "legendY": 280, "rowPadding": 7.5, "labelOffset": 3}}
     }
    },
    {"data": {"name": "XR"}, "transform": [{"filter": "datum.m == 1"}],
     "mark": {"type": "tick", "orient": "vertical", "size": 10, "thickness": 1, "color": "black", "opacity": 1},
     "encoding": {"x": {"field": "v", "type": "quantitative"}, "y": {"datum": 0, "type": "quantitative"}}},
    {"data": {"name": "XR"}, "transform": [{"filter": "datum.m == 1"}],
     "mark": {"type": "tick", "orient": "vertical", "size": 10, "thickness": 1, "color": "black", "opacity": 1},
     "encoding": {"x": {"field": "v", "type": "quantitative"}, "y": {"datum": 8e-6, "type": "quantitative"}}},
    {"data": {"name": "XR"}, "transform": [{"filter": "datum.m == 0"}],
     "mark": {"type": "tick", "orient": "vertical", "size": 5, "thickness": 1, "color": "black", "opacity": 1, "yOffset": -2.5},
     "encoding": {"x": {"field": "v", "type": "quantitative"}, "y": {"datum": 0, "type": "quantitative"}}},
    {"data": {"name": "XR"}, "transform": [{"filter": "datum.m == 0"}],
     "mark": {"type": "tick", "orient": "vertical", "size": 5, "thickness": 1, "color": "black", "opacity": 1, "yOffset": 2.5},
     "encoding": {"x": {"field": "v", "type": "quantitative"}, "y": {"datum": 8e-6, "type": "quantitative"}}},
    {"data": {"name": "YR"}, "transform": [{"filter": "datum.m == 1"}],
     "mark": {"type": "tick", "orient": "horizontal", "size": 10, "thickness": 1, "color": "black", "opacity": 1},
     "encoding": {"y": {"field": "v", "type": "quantitative"}, "x": {"datum": 0, "type": "quantitative"}}},
    {"data": {"name": "YR"}, "transform": [{"filter": "datum.m == 1"}],
     "mark": {"type": "tick", "orient": "horizontal", "size": 10, "thickness": 1, "color": "black", "opacity": 1},
     "encoding": {"y": {"field": "v", "type": "quantitative"}, "x": {"datum": 0.4, "type": "quantitative"}}},
    {"data": {"name": "YR"}, "transform": [{"filter": "datum.m == 0"}],
     "mark": {"type": "tick", "orient": "horizontal", "size": 5, "thickness": 1, "color": "black", "opacity": 1, "xOffset": 2.5},
     "encoding": {"y": {"field": "v", "type": "quantitative"}, "x": {"datum": 0, "type": "quantitative"}}},
    {"data": {"name": "YR"}, "transform": [{"filter": "datum.m == 0"}],
     "mark": {"type": "tick", "orient": "horizontal", "size": 5, "thickness": 1, "color": "black", "opacity": 1, "xOffset": -2.5},
     "encoding": {"y": {"field": "v", "type": "quantitative"}, "x": {"datum": 0.4, "type": "quantitative"}}}
   ]
  }
 ]
}
